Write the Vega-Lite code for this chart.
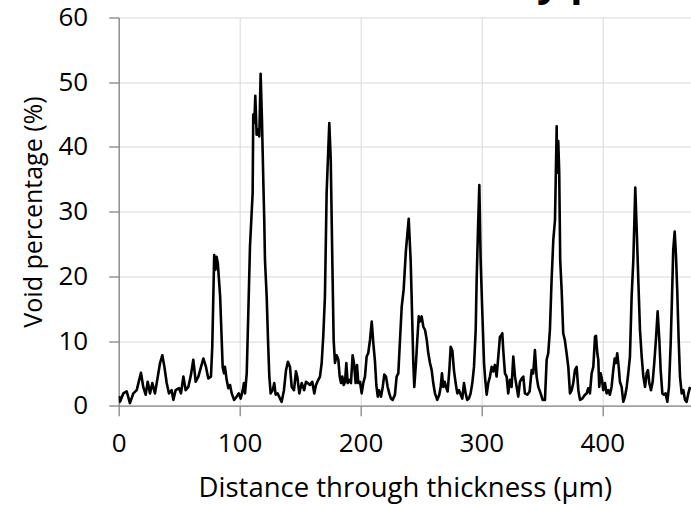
{
  "$schema": "https://vega.github.io/schema/vega-lite/v6.json",
  "autosize": "none",
  "width": 572.3,
  "height": 388.2,
  "padding": {"left": 118.7, "top": 17.5, "right": 0, "bottom": 99.3},
  "background": "white",
  "title": {
    "text": "Void density profile",
    "fontSize": 40,
    "fontWeight": "bold",
    "font": "Open Sans",
    "color": "black",
    "anchor": "start",
    "frame": "group",
    "dx": 195,
    "offset": 1
  },
  "config": {
    "view": {"stroke": null},
    "axis": {
      "labelFont": "Open Sans",
      "titleFont": "Open Sans",
      "labelFontSize": 26,
      "titleFontWeight": "normal",
      "labelColor": "black",
      "titleColor": "black",
      "gridColor": "#d9d9d9",
      "gridWidth": 1,
      "domainColor": "#868686",
      "domainWidth": 1.3,
      "tickColor": "#868686",
      "tickWidth": 1.3,
      "tickSize": 10
    }
  },
  "data": {
    "values": [
      {"d":0.3,"v":1.5},{"d":1.1,"v":0.6},{"d":3.8,"v":1.9},{"d":6.6,"v":2.2},{"d":9.3,"v":0.4},{"d":12.1,"v":1.9},{"d":14.9,"v":2.4},{"d":18.4,"v":5.1},{"d":20.3,"v":2.9},{"d":22.3,"v":1.7},{"d":24,"v":3.7},{"d":25.9,"v":1.9},{"d":27.8,"v":3.5},{"d":30,"v":1.9},{"d":31.9,"v":4},{"d":34.2,"v":6.6},{"d":36.1,"v":7.8},{"d":37.8,"v":6},{"d":39.7,"v":3.5},{"d":41.6,"v":1.9},{"d":43.8,"v":2.4},{"d":45.2,"v":0.9},{"d":47.1,"v":2.4},{"d":49.9,"v":2.7},{"d":51.5,"v":1.9},{"d":53.5,"v":4.5},{"d":55.4,"v":2.4},{"d":57.6,"v":2.9},{"d":59.8,"v":4.8},{"d":61.7,"v":7.1},{"d":63.7,"v":3.7},{"d":65.9,"v":4.5},{"d":68.1,"v":6},{"d":70,"v":7.3},{"d":72.2,"v":6},{"d":74.1,"v":4.2},{"d":76.3,"v":4.5},{"d":77.4,"v":9.1},{"d":78.4,"v":18},{"d":79,"v":23.3},{"d":80,"v":21},{"d":81,"v":23},{"d":82,"v":22},{"d":83.9,"v":16.9},{"d":85.2,"v":10.2},{"d":86,"v":6},{"d":87.1,"v":5},{"d":87.9,"v":6},{"d":89.3,"v":4},{"d":90.7,"v":2.7},{"d":92.1,"v":3.2},{"d":93.5,"v":1.9},{"d":95.4,"v":0.9},{"d":97.6,"v":1.4},{"d":99.3,"v":1.9},{"d":100.9,"v":1.1},{"d":102.6,"v":2.4},{"d":103.6,"v":3.5},{"d":104.5,"v":1.9},{"d":105.9,"v":5},{"d":107.2,"v":14.3},{"d":108.6,"v":24.6},{"d":110.8,"v":32.9},{"d":111.3,"v":45},{"d":112.2,"v":43.7},{"d":113,"v":47.9},{"d":114.1,"v":41.9},{"d":115.2,"v":42.7},{"d":116.3,"v":41.6},{"d":117.4,"v":51.3},{"d":118.5,"v":44.2},{"d":119.6,"v":34.9},{"d":120.4,"v":28.7},{"d":121,"v":22.5},{"d":122.4,"v":16.9},{"d":123.7,"v":9.1},{"d":124.6,"v":4.5},{"d":125.7,"v":1.9},{"d":127.4,"v":2.4},{"d":128.7,"v":3.5},{"d":129.8,"v":1.7},{"d":131.5,"v":1.9},{"d":133.4,"v":1.1},{"d":134.8,"v":0.6},{"d":136.7,"v":2.4},{"d":138.4,"v":5.5},{"d":140,"v":6.8},{"d":141.7,"v":6},{"d":143.1,"v":2.9},{"d":145,"v":2.4},{"d":146.6,"v":5.3},{"d":147.7,"v":4.5},{"d":149.4,"v":1.9},{"d":151.4,"v":3.5},{"d":153.4,"v":2.4},{"d":154.9,"v":3.7},{"d":156.3,"v":3.5},{"d":158.2,"v":3.2},{"d":160.1,"v":3.7},{"d":161.8,"v":1.9},{"d":163.2,"v":3.2},{"d":165.1,"v":4},{"d":166.5,"v":4.5},{"d":167.9,"v":6.6},{"d":169.2,"v":10.7},{"d":170.6,"v":16.9},{"d":172,"v":32.9},{"d":174.2,"v":43.7},{"d":175.4,"v":38},{"d":176.7,"v":22.5},{"d":177.8,"v":10.2},{"d":178.9,"v":6.6},{"d":180.3,"v":7.8},{"d":181.7,"v":7.1},{"d":182.8,"v":4.5},{"d":183.9,"v":3.5},{"d":185,"v":4.5},{"d":186.1,"v":3.2},{"d":187.2,"v":3.7},{"d":188.3,"v":6.6},{"d":189.4,"v":3.5},{"d":190.8,"v":4},{"d":192.1,"v":3.5},{"d":193.5,"v":7.8},{"d":194.6,"v":6.6},{"d":196,"v":3.5},{"d":197.1,"v":6.3},{"d":198.2,"v":3.5},{"d":199.6,"v":3.7},{"d":201,"v":1.9},{"d":202.3,"v":3.5},{"d":203.7,"v":4.5},{"d":205.1,"v":7.6},{"d":206.4,"v":8.1},{"d":207.9,"v":10.2},{"d":209.3,"v":13},{"d":210.6,"v":9.7},{"d":212,"v":6.8},{"d":213.1,"v":3.2},{"d":214.3,"v":1.4},{"d":215.3,"v":2.4},{"d":217,"v":1.4},{"d":218.4,"v":2.9},{"d":219.7,"v":4.8},{"d":221.1,"v":4.5},{"d":222.5,"v":2.9},{"d":223.8,"v":1.9},{"d":225.2,"v":1.1},{"d":226.6,"v":0.9},{"d":228.5,"v":1.7},{"d":229.9,"v":4.5},{"d":231.3,"v":5},{"d":232.7,"v":10.2},{"d":234.1,"v":15.3},{"d":235.7,"v":17.9},{"d":236.8,"v":21.5},{"d":237.6,"v":24},{"d":239.9,"v":28.9},{"d":241.5,"v":22.5},{"d":242.3,"v":16.9},{"d":243.7,"v":6.6},{"d":244.5,"v":2.9},{"d":245.9,"v":6.6},{"d":247,"v":10.2},{"d":248.2,"v":13.8},{"d":249.2,"v":13},{"d":250.6,"v":13.8},{"d":252,"v":12.2},{"d":253.4,"v":11.7},{"d":254.8,"v":10.2},{"d":256.1,"v":8.1},{"d":257.5,"v":6.6},{"d":258.9,"v":5.5},{"d":260.2,"v":3.5},{"d":261.6,"v":1.9},{"d":263.5,"v":0.9},{"d":265.2,"v":1.7},{"d":266.3,"v":2.9},{"d":267.4,"v":5},{"d":268.5,"v":2.9},{"d":269.7,"v":3.7},{"d":270.7,"v":2.9},{"d":272.1,"v":2.2},{"d":273.5,"v":5.5},{"d":274.6,"v":9.1},{"d":276,"v":8.5},{"d":277.3,"v":5.5},{"d":278.7,"v":3.5},{"d":280.1,"v":1.9},{"d":281.5,"v":2.4},{"d":282.9,"v":1.7},{"d":284.2,"v":1.1},{"d":285.6,"v":3.5},{"d":287,"v":1.9},{"d":288.3,"v":0.9},{"d":289.7,"v":1.1},{"d":291.1,"v":1.9},{"d":292.5,"v":3.5},{"d":293.9,"v":6},{"d":295.3,"v":11.7},{"d":296.1,"v":19.5},{"d":297.2,"v":27.2},{"d":298.3,"v":34.1},{"d":299.4,"v":22.5},{"d":300.8,"v":14.3},{"d":302.2,"v":6.6},{"d":303.2,"v":4},{"d":304.4,"v":1.7},{"d":305.7,"v":3.5},{"d":307.1,"v":4.5},{"d":308.5,"v":6},{"d":309.8,"v":5.3},{"d":311.2,"v":6.3},{"d":312.6,"v":4.5},{"d":314,"v":7.6},{"d":315.4,"v":10.7},{"d":316.2,"v":10.8},{"d":317.3,"v":11.2},{"d":318.1,"v":8.6},{"d":319.5,"v":5},{"d":320.9,"v":4.5},{"d":322.2,"v":1.9},{"d":323.6,"v":4},{"d":325,"v":2.9},{"d":326.4,"v":7.6},{"d":327.8,"v":4.5},{"d":329.2,"v":2.9},{"d":330.5,"v":1.4},{"d":331.9,"v":3.7},{"d":333.3,"v":4.2},{"d":334.7,"v":4.5},{"d":336,"v":1.9},{"d":338,"v":1.7},{"d":339.9,"v":2.2},{"d":341.6,"v":5.5},{"d":342.9,"v":5},{"d":344.3,"v":8.6},{"d":345.7,"v":4.5},{"d":347.1,"v":2.9},{"d":349,"v":1.9},{"d":350.7,"v":0.9},{"d":352.6,"v":0.9},{"d":354,"v":7.1},{"d":355.3,"v":8.1},{"d":356.7,"v":11.7},{"d":358.1,"v":19.5},{"d":359.5,"v":25.6},{"d":360.9,"v":28.7},{"d":362.3,"v":43.2},{"d":362.6,"v":36},{"d":363.6,"v":40.9},{"d":364.4,"v":36},{"d":365.2,"v":22.5},{"d":366.4,"v":17.9},{"d":367.7,"v":11.2},{"d":369,"v":10.2},{"d":370.5,"v":8.1},{"d":371.9,"v":6},{"d":373.3,"v":1.9},{"d":374.7,"v":2.4},{"d":376,"v":3.5},{"d":377.4,"v":5.5},{"d":378.8,"v":6},{"d":380.2,"v":2.4},{"d":381.6,"v":0.9},{"d":383.5,"v":1.1},{"d":385.7,"v":1.7},{"d":387.1,"v":1.9},{"d":388.4,"v":2.7},{"d":389.8,"v":1.9},{"d":391.2,"v":5},{"d":392.6,"v":6},{"d":394,"v":10.7},{"d":394.8,"v":10.8},{"d":395.9,"v":8.1},{"d":396.7,"v":7.1},{"d":397.5,"v":2.9},{"d":398.7,"v":5},{"d":399.8,"v":4},{"d":400.8,"v":2.4},{"d":402.2,"v":3.5},{"d":403.6,"v":1.9},{"d":405,"v":2.4},{"d":406.3,"v":1.7},{"d":407.7,"v":2.9},{"d":409.1,"v":5.5},{"d":410.3,"v":7.3},{"d":411.3,"v":6.6},{"d":412.4,"v":8.1},{"d":413.6,"v":6},{"d":414.6,"v":3.7},{"d":416,"v":2.9},{"d":417.4,"v":0.6},{"d":418.8,"v":1.4},{"d":420.2,"v":2.9},{"d":421.5,"v":5},{"d":422.9,"v":7.6},{"d":424.3,"v":16.9},{"d":425.7,"v":22.5},{"d":427.3,"v":33.7},{"d":428.5,"v":27.2},{"d":429.8,"v":19.5},{"d":431.2,"v":11.7},{"d":432.6,"v":7.6},{"d":434,"v":4.5},{"d":435.4,"v":2.9},{"d":436.7,"v":5},{"d":437.8,"v":5.5},{"d":438.9,"v":3.5},{"d":440.3,"v":2.4},{"d":441.7,"v":3.7},{"d":443,"v":6.6},{"d":444.4,"v":10.2},{"d":445.8,"v":14.6},{"d":447.2,"v":10.2},{"d":448.3,"v":5.5},{"d":449.7,"v":1.9},{"d":451,"v":1.7},{"d":452.4,"v":1.9},{"d":453.8,"v":0.6},{"d":455.2,"v":2.9},{"d":456.6,"v":9.7},{"d":457.7,"v":16.9},{"d":458.7,"v":24.1},{"d":459.9,"v":26.9},{"d":461,"v":23.1},{"d":462,"v":17.9},{"d":463.2,"v":10.2},{"d":464.3,"v":4.5},{"d":465.7,"v":1.9},{"d":467.1,"v":2.4},{"d":468.4,"v":0.9},{"d":469.8,"v":0.6},{"d":471.2,"v":1.9},{"d":472.6,"v":2.9}
    ]
  },
  "mark": {"type": "line", "color": "black", "strokeWidth": 2.6, "clip": true, "strokeJoin": "round"},
  "encoding": {
    "x": {
      "field": "d",
      "type": "quantitative",
      "scale": {"domain": [0, 473.4], "nice": false, "zero": false},
      "axis": {
        "values": [0, 100, 200, 300, 400],
        "title": "Distance through thickness (µm)",
        "titleFontSize": 27.5,
        "labelPadding": 15,
        "labelFlush": false,
        "titleY": 83,
        "titleBaseline": "middle"
      }
    },
    "y": {
      "field": "v",
      "type": "quantitative",
      "scale": {"domain": [0, 60], "nice": false},
      "axis": {
        "values": [0, 10, 20, 30, 40, 50, 60],
        "title": "Void percentage (%)",
        "titleFontSize": 25,
        "labelPadding": 21,
        "labelFlush": false,
        "titleX": -85,
        "titleY": 194,
        "titleBaseline": "middle"
      }
    }
  }
}
